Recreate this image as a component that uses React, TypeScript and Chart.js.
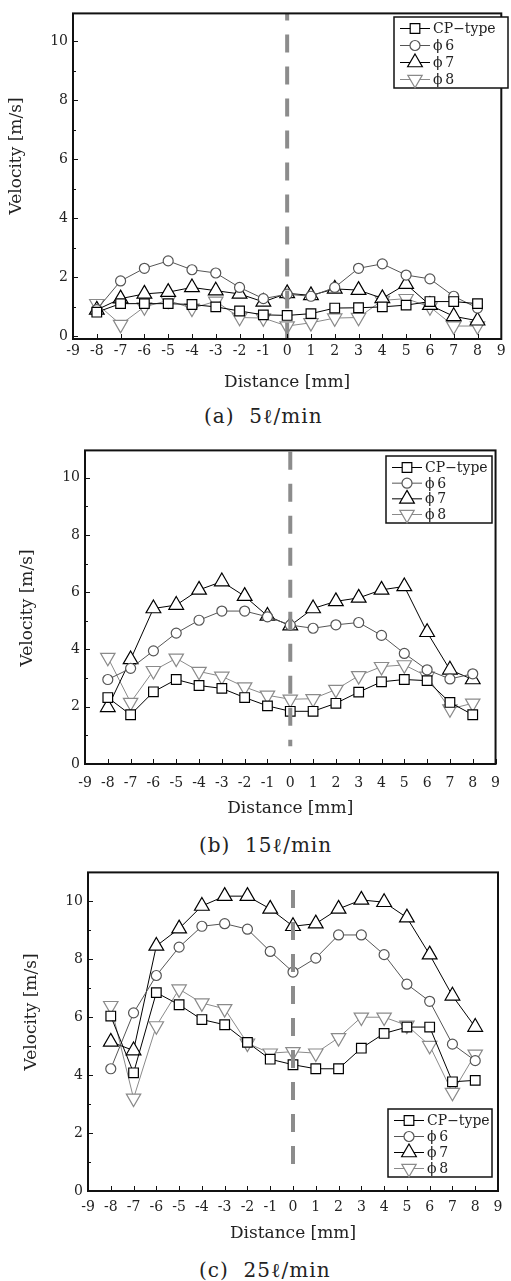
import React, { useEffect, useRef } from "react";
import { Chart, registerables } from "chart.js";
import { drawPoint } from "chart.js/helpers";

Chart.register(...registerables);

// ---------- data ----------
const distances = [-8, -7, -6, -5, -4, -3, -2, -1, 0, 1, 2, 3, 4, 5, 6, 7, 8];
const xTickValues = [-9, -8, -7, -6, -5, -4, -3, -2, -1, 0, 1, 2, 3, 4, 5, 6, 7, 8, 9];
const yLabelValues = [0, 2, 4, 6, 8, 10];
const yMinorValues = [1, 3, 5, 7, 9];
const seriesNames = ["CP\u2212type", "\u03d5\u20096", "\u03d5\u20097", "\u03d5\u20098"];
const xTitle = "Distance [mm]";
const yTitle = "Velocity [m/s]";
const captions = ["(a)  5\u2113/min", "(b)  15\u2113/min", "(c)  25\u2113/min"];

// (a) 5 l/min
const cpA = [0.81, 1.1, 1.1, 1.1, 1.07, 0.99, 0.85, 0.72, 0.7, 0.76, 0.95, 0.96, 0.99, 1.05, 1.17, 1.17, 1.1];
const phi6A = [0.9, 1.87, 2.3, 2.55, 2.25, 2.14, 1.65, 1.27, 1.42, 1.35, 1.65, 2.3, 2.45, 2.07, 1.94, 1.35, 0.95];
const phi7A = [0.89, 1.27, 1.43, 1.49, 1.65, 1.54, 1.43, 1.16, 1.45, 1.38, 1.6, 1.56, 1.28, 1.76, 1.05, 0.67, 0.52];
const phi8A = [1.1, 0.39, 0.99, 1.21, 0.94, 1.18, 0.63, 0.61, 0.34, 0.45, 0.61, 0.63, 1.21, 1.27, 0.99, 0.34, 0.34];
const centreA = [10.95, -0.1];

// (b) 15 l/min
const cpB = [2.32, 1.72, 2.52, 2.95, 2.74, 2.64, 2.32, 2.03, 1.84, 1.84, 2.12, 2.51, 2.87, 2.95, 2.91, 2.15, 1.72];
const phi6B = [2.95, 3.34, 3.95, 4.57, 5.02, 5.34, 5.34, 5.14, 4.85, 4.74, 4.86, 4.94, 4.49, 3.86, 3.29, 2.97, 3.15];
const phi7B = [1.98, 3.65, 5.43, 5.55, 6.08, 6.37, 5.86, 5.17, 4.83, 5.43, 5.68, 5.8, 6.08, 6.2, 4.6, 3.29, 2.95];
const phi8B = [3.72, 2.15, 3.26, 3.69, 3.23, 3.06, 2.69, 2.4, 2.26, 2.28, 2.6, 3.08, 3.4, 3.46, 3.06, 1.92, 2.12];
const centreB = [10.9, 0.62];

// (c) 25 l/min
const cpC = [6.04, 4.08, 6.85, 6.43, 5.92, 5.74, 5.13, 4.55, 4.36, 4.22, 4.22, 4.93, 5.44, 5.66, 5.66, 3.77, 3.82];
const phi6C = [4.22, 6.15, 7.44, 8.42, 9.14, 9.23, 9.04, 8.27, 7.56, 8.04, 8.84, 8.84, 8.16, 7.14, 6.55, 5.07, 4.5];
const phi7C = [5.15, 4.85, 8.46, 9.06, 9.84, 10.18, 10.18, 9.74, 9.14, 9.23, 9.74, 10.05, 9.97, 9.44, 8.16, 6.74, 5.66];
const phi8C = [6.4, 3.2, 5.7, 6.97, 6.49, 6.29, 5.1, 4.76, 4.81, 4.76, 5.29, 6.0, 6.0, 5.72, 5.02, 3.4, 4.72];
const centreC = [10.39, 0.56];

// ---------- styles / layout ----------
const FONT = '"DejaVu Serif", "Liberation Serif", serif';
const TEXT = "#222";

const seriesStyles = [
  { color: "#000", pointStyle: "rect", radius: 6.8, rotation: 0 },
  { color: "#555", pointStyle: "circle", radius: 5, rotation: 0 },
  { color: "#000", pointStyle: "triangle", radius: 8.5, rotation: 0 },
  { color: "#8a8a8a", pointStyle: "triangle", radius: 8.3, rotation: 180 },
];

const panels = [
  {
    series: [cpA, phi6A, phi7A, phi8A], centre: centreA, yMin: -0.1, yMax: 10.95,
    canvasTop: 0, canvasHeight: 400, T: 8, B: 339, L: 73, R: 508,
    xTickPad: 4, xTitleY: 383, yTitleX: 17, yTitleY: 156, dashOffset: 11,
    legend: { x: 394, y: 17, w: 114, h: 71 }, captionY: 416, captionX: 204,
  },
  {
    series: [cpB, phi6B, phi7B, phi8B], centre: centreB, yMin: 0, yMax: 10.95,
    canvasTop: 437, canvasHeight: 387, T: 445, B: 764, L: 85, R: 500,
    xTickPad: 11, xTitleY: 809, yTitleX: 28, yTitleY: 608, dashOffset: 0,
    legend: { x: 386, y: 456, w: 106, h: 67 }, captionY: 845, captionX: 199,
  },
  {
    series: [cpC, phi6C, phi7C, phi8C], centre: centreC, yMin: 0, yMax: 11,
    canvasTop: 859, canvasHeight: 390, T: 867, B: 1191, L: 88, R: 498,
    xTickPad: 8, xTitleY: 1234, yTitleX: 32, yTitleY: 1012, dashOffset: 0,
    legend: { x: 388, y: 1109, w: 104, h: 68 }, captionY: 1270, captionX: 199,
  },
];

const decorPlugin = {
  id: "panelDecor",
  afterDraw(chart: any, _args: any, opts: any) {
    const cfg = opts.cfg;
    const ctx = chart.ctx;
    const ca = chart.chartArea;
    const xs = chart.scales.x;
    const ys = chart.scales.y;
    ctx.save();
    // inward ticks
    ctx.strokeStyle = "#111";
    ctx.lineWidth = 1;
    ctx.beginPath();
    xTickValues.forEach((v) => {
      const px = Math.round(xs.getPixelForValue(v)) + 0.5;
      ctx.moveTo(px, ca.bottom);
      ctx.lineTo(px, ca.bottom - 5);
    });
    yLabelValues.forEach((v) => {
      const py = Math.round(ys.getPixelForValue(v)) + 0.5;
      ctx.moveTo(ca.left, py);
      ctx.lineTo(ca.left + 5, py);
    });
    yMinorValues.forEach((v) => {
      const py = Math.round(ys.getPixelForValue(v)) + 0.5;
      ctx.moveTo(ca.left, py);
      ctx.lineTo(ca.left + 3, py);
    });
    ctx.stroke();
    // frame
    ctx.lineWidth = 2;
    ctx.strokeStyle = "#111";
    ctx.strokeRect(ca.left, ca.top, ca.right - ca.left, ca.bottom - ca.top);

    // legend
    const lg = cfg.legend;
    const lx = lg.x;
    const ly = lg.y - cfg.canvasTop;
    ctx.fillStyle = "#fff";
    ctx.fillRect(lx, ly, lg.w, lg.h);
    ctx.lineWidth = 1.5;
    ctx.strokeStyle = "#111";
    ctx.strokeRect(lx, ly, lg.w, lg.h);
    const step = (lg.h - 20) / 3;
    seriesStyles.forEach((s, i) => {
      const cy = ly + 11.5 + i * step;
      ctx.strokeStyle = s.color;
      ctx.lineWidth = 1;
      ctx.beginPath();
      ctx.moveTo(lx + 6, cy);
      ctx.lineTo(lx + 36, cy);
      ctx.stroke();
      ctx.fillStyle = "#fff";
      ctx.lineWidth = 1.2;
      drawPoint(ctx, { pointStyle: s.pointStyle, rotation: s.rotation, radius: s.radius, borderWidth: 1.2 } as any, lx + 21, cy);
      ctx.fillStyle = TEXT;
      ctx.font = `14px ${FONT}`;
      ctx.textAlign = "left";
      ctx.textBaseline = "middle";
      ctx.fillText(seriesNames[i], lx + 39, cy + 1);
    });

    // y title
    ctx.translate(cfg.yTitleX, cfg.yTitleY - cfg.canvasTop);
    ctx.rotate(-Math.PI / 2);
    ctx.fillStyle = TEXT;
    ctx.font = `17px ${FONT}`;
    ctx.textAlign = "center";
    ctx.textBaseline = "middle";
    ctx.fillText(yTitle, 0, 0);
    ctx.restore();
  },
};

function Panel({ cfg }: { cfg: any }) {
  const ref = useRef<HTMLCanvasElement>(null);
  useEffect(() => {
    const canvas = ref.current!;
    const top = cfg.canvasTop;
    const H = cfg.canvasHeight;
    const datasets: any[] = [
      {
        label: "centre",
        data: cfg.centre.map((v: number) => ({ x: 0, y: v })),
        borderColor: "#8c8c8c",
        borderWidth: 4,
        borderDash: [18, 14],
        borderDashOffset: cfg.dashOffset,
        borderCapStyle: "butt",
        pointRadius: 0,
        order: 0,
      },
      ...cfg.series.map((vals: number[], i: number) => {
        const s = seriesStyles[i];
        return {
          label: seriesNames[i],
          data: distances.map((d, j) => ({ x: d, y: vals[j] })),
          borderColor: s.color,
          borderWidth: 1,
          pointStyle: s.pointStyle,
          pointRotation: s.rotation,
          pointRadius: s.radius,
          pointBorderWidth: 1.2,
          pointBorderColor: s.color,
          pointBackgroundColor: "#fff",
          tension: 0,
          order: i + 1,
        };
      }),
    ];
    const tickFont = { family: FONT, size: 14 };
    const chart = new Chart(canvas, {
      type: "line",
      data: { datasets },
      options: {
        animation: false,
        responsive: false,
        maintainAspectRatio: false,
        devicePixelRatio: 1,
        layout: { padding: { left: 0, right: 511 - cfg.R, top: cfg.T - top, bottom: 0 } },
        plugins: {
          legend: { display: false },
          tooltip: { enabled: false },
          panelDecor: { cfg },
        } as any,
        scales: {
          x: {
            type: "linear",
            min: -9,
            max: 9,
            afterBuildTicks: (s: any) => {
              s.ticks = xTickValues.map((v) => ({ value: v }));
            },
            afterFit: (s: any) => {
              s.height = top + H - cfg.B;
            },
            grid: { display: false, drawTicks: false },
            border: { display: false },
            ticks: { padding: cfg.xTickPad, autoSkip: false, maxRotation: 0, minRotation: 0, font: tickFont, color: TEXT },
            title: {
              display: true,
              text: xTitle,
              color: TEXT,
              font: { family: FONT, size: 17 },
              padding: { top: 0, bottom: top + H - cfg.xTitleY - 10.2 },
            },
          },
          y: {
            type: "linear",
            min: cfg.yMin,
            max: cfg.yMax,
            afterBuildTicks: (s: any) => {
              s.ticks = yLabelValues.map((v) => ({ value: v }));
            },
            afterFit: (s: any) => {
              s.width = cfg.L;
            },
            grid: { display: false, drawTicks: false },
            border: { display: false },
            ticks: { padding: 5, font: tickFont, color: TEXT },
          },
        },
      } as any,
      plugins: [decorPlugin],
    });
    return () => chart.destroy();
  }, [cfg]);
  return (
    <canvas
      ref={ref}
      width={511}
      height={cfg.canvasHeight}
      style={{ position: "absolute", left: 0, top: cfg.canvasTop, width: 511, height: cfg.canvasHeight }}
    />
  );
}

export default function App() {
  return (
    <div style={{ position: "absolute", left: 0, top: 0, width: 511, height: 1281, background: "#fff", overflow: "hidden" }}>
      {panels.map((p, i) => (
        <React.Fragment key={i}>
          <Panel cfg={p} />
          <div
            style={{
              position: "absolute",
              left: p.captionX,
              top: p.captionY - 12,
              fontFamily: FONT,
              fontSize: 20,
              letterSpacing: "1px",
              lineHeight: "24px",
              whiteSpace: "pre",
              color: TEXT,
            }}
          >
            {captions[i]}
          </div>
        </React.Fragment>
      ))}
    </div>
  );
}
